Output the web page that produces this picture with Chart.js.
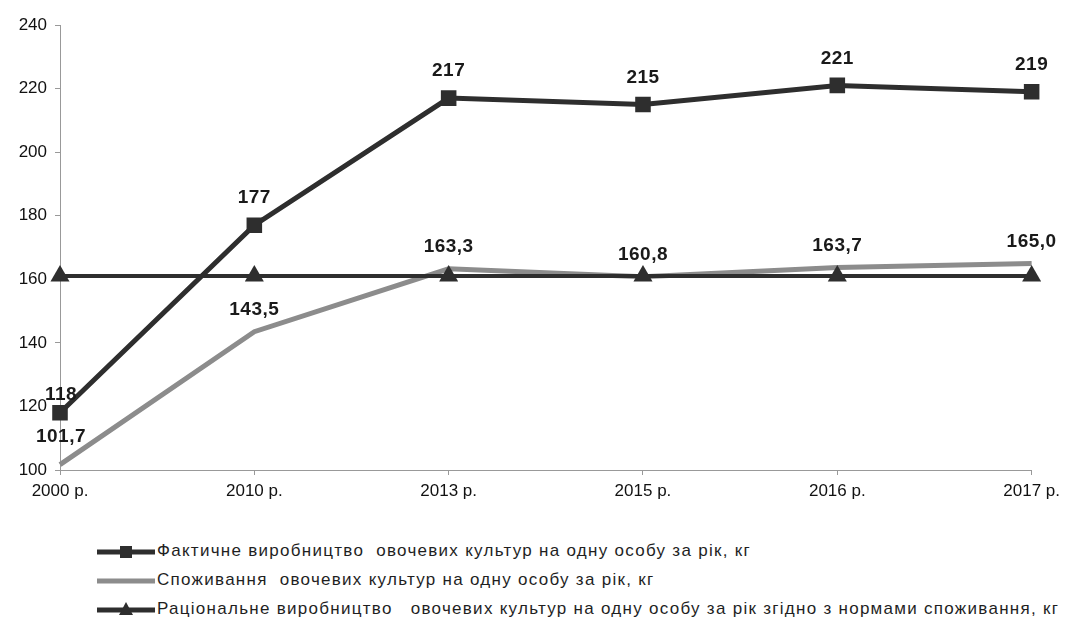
<!DOCTYPE html>
<html>
<head>
<meta charset="utf-8">
<script src="https://cdn.jsdelivr.net/npm/chart.js@4"></script>
<style>
  body { margin: 0; background: #fff; }
  #wrap { position: relative; width: 1066px; height: 510px; }
  #legend { position: absolute; left: 97px; top: 536px; font-family: 'Liberation Sans', Arial, sans-serif; font-size: 17px; letter-spacing: 1.28px; color: #1f1f1f; }
  .item { display: flex; align-items: center; height: 29px; white-space: pre; }
  .item svg { margin-right: 2px; }
</style>
</head>
<body>
<div id="wrap"><canvas id="myChart"></canvas></div>
<div id="legend"></div>
<script>
const years = ['2000 р.', '2010 р.', '2013 р.', '2015 р.', '2016 р.', '2017 р.'];
const production = [118, 177, 217, 215, 221, 219];
const consumption = [101.7, 143.5, 163.3, 160.8, 163.7, 165.0];
const rational = [161, 161, 161, 161, 161, 161];

const names = [
    'Фактичне виробництво  овочевих культур на одну особу за рік, кг',
    'Споживання  овочевих культур на одну особу за рік, кг',
    'Раціональне виробництво   овочевих культур на одну особу за рік згідно з нормами споживання, кг'
];

const dark = '#2e2e2e';
const gray = '#8c8c8c';

// labels above points of first two series
const valueLabels = {
    id: 'valueLabels',
    afterDatasetsDraw(chart) {
        const ctx = chart.ctx;
        ctx.save();
        ctx.font = 'bold 19px "Liberation Sans", Arial, sans-serif';
        ctx.letterSpacing = '0.5px';
        ctx.fillStyle = '#1a1a1a';
        ctx.textAlign = 'center';
        ctx.textBaseline = 'middle';
        [0, 1].forEach(di => {
            const meta = chart.getDatasetMeta(di);
            const ds = chart.data.datasets[di];
            meta.data.forEach((pt, i) => {
                const v = ds.data[i];
                const txt = di === 1 ? v.toFixed(1).replace('.', ',') : String(v);
                let dy = di === 0 ? 27 : 22;
                if (i === 0) dy = di === 0 ? 18 : 28;
                ctx.fillText(txt, pt.x + (i === 0 ? 1 : 0), pt.y - dy);
            });
        });
        ctx.restore();
    }
};

const tickFont = { size: 17, family: '"Liberation Sans", Arial, sans-serif' };

const ctx = document.getElementById('myChart').getContext('2d');
const myChart = new Chart(ctx, {
    type: 'line',
    data: {
        labels: years,
        datasets: [
            { label: names[0], data: production, borderColor: dark, backgroundColor: dark, borderWidth: 5, pointStyle: 'rect', pointRadius: 11, pointBorderWidth: 0, order: 1 },
            { label: names[1], data: consumption, borderColor: gray, backgroundColor: gray, borderWidth: 5, pointRadius: 0, order: 3 },
            { label: names[2], data: rational, borderColor: dark, backgroundColor: dark, borderWidth: 4, pointStyle: 'triangle', pointRadius: 11, pointBorderWidth: 0, order: 2 }
        ]
    },
    options: {
        responsive: true,
        maintainAspectRatio: false,
        animation: false,
        layout: { padding: { top: 25, right: 31, left: 0, bottom: 0 } },
        plugins: { legend: { display: false }, tooltip: { enabled: false } },
        scales: {
            x: {
                offset: false,
                grid: { display: true, drawOnChartArea: false, color: '#999', tickLength: 5 },
                border: { color: '#999', width: 1 },
                ticks: { color: '#111', font: tickFont, padding: 6, maxRotation: 0 },
                afterFit(scale) { scale.height = 40; }
            },
            y: {
                min: 100, max: 240,
                ticks: { stepSize: 20, color: '#111', font: tickFont, padding: 8 },
                grid: { display: true, drawOnChartArea: false, color: '#999', tickLength: 5 },
                border: { color: '#999', width: 1 },
                afterFit(scale) { scale.width = 60; }
            }
        }
    },
    plugins: [valueLabels]
});

// legend
const legendEl = document.getElementById('legend');
const legendMarks = [
    '<rect x="23" y="5" width="12" height="12" fill="' + dark + '"/>',
    '',
    '<polygon points="29,3 36,16 22,16" fill="' + dark + '"/>'
];
const legendColors = [dark, gray, dark];
names.forEach((n, i) => {
    const row = document.createElement('div');
    row.className = 'item';
    row.innerHTML = '<svg width="58" height="20" viewBox="0 0 58 20"><line x1="0" y1="11" x2="58" y2="11" stroke="' + legendColors[i] + '" stroke-width="5"/>' + legendMarks[i] + '</svg><span>' + n + '</span>';
    legendEl.appendChild(row);
});
</script>
</body>
</html>
